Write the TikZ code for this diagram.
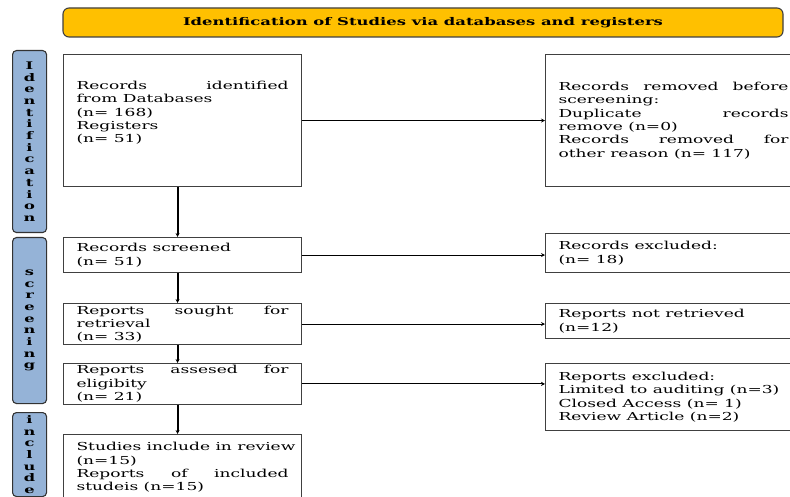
\documentclass[tikz,border=0pt]{standalone}
\usepackage{fontspec}
\setmainfont{DejaVu Serif}[FakeStretch=1.55]
\usetikzlibrary{arrows.meta}
\hyphenpenalty=10000
\exhyphenpenalty=10000
\newlength{\du}
\setlength{\du}{1pt}
\definecolor{titlefill}{HTML}{FFC000}
\definecolor{barfill}{HTML}{95B3D7}
\definecolor{boxline}{HTML}{404040}
\tikzset{
  flowbox/.style={draw=boxline, line width=1.1\du, fill=white, anchor=north west,
    inner xsep=13\du, inner ysep=2\du, align=justify,
    font=\fontsize{11}{13.3}\selectfont},
  phasebar/.style={draw=black!80, line width=1.1\du, fill=barfill, rounded corners=4\du,
    anchor=north west, minimum width=34\du, inner sep=0pt, align=center,
    font=\bfseries\fontsize{10.5}{11.7}\selectfont},
  downarrow/.style={line width=2\du, -{Stealth[length=4pt,width=4pt]}},
  sidearrow/.style={line width=0.8\du, -{Stealth[length=4pt,width=4pt]}}
}

\begin{document}
\begin{tikzpicture}
\pgftransformxscale{1.000000}
\pgftransformyscale{-1.000000}
\useasboundingbox (0\du,0\du) rectangle (790\du,497\du);
\fill[white] (0\du,0\du) rectangle (790\du,497\du);
% title
\node[draw=boxline, line width=1.1\du, fill=titlefill, rounded corners=6\du,
  minimum width=720\du, minimum height=29\du, inner sep=0pt,
  font=\bfseries\fontsize{10.6}{13}\selectfont] (title) at (423\du,22.5\du)
  {Identification of Studies via databases and registers};
% phase bars
\node[phasebar, minimum height=182\du] (idbar) at (12\du,50\du)
  {I\\d\\e\\n\\t\\i\\f\\i\\c\\a\\t\\i\\o\\n};
\node[phasebar, minimum height=166\du] (scbar) at (12\du,237\du)
  {s\\c\\r\\e\\e\\n\\i\\n\\g};
\node[phasebar, minimum height=84\du] (inbar) at (12\du,412\du)
  {i\\n\\c\\l\\u\\d\\e};
% left column
\node[flowbox, text width=212\du, minimum height=132\du] (b1) at (63\du,54\du)
  {Records identified\linebreak from Databases\\(n= 168)\\Registers\\(n= 51)\\[4\du]};
\node[flowbox, text width=212\du, minimum height=35\du] (b2) at (63\du,237\du)
  {Records screened\\(n= 51)};
\node[flowbox, text width=212\du, minimum height=41\du] (b3) at (63\du,303\du)
  {Reports sought for\linebreak retrieval\\(n= 33)};
\node[flowbox, text width=212\du, minimum height=40\du] (b4) at (63\du,363\du)
  {Reports assesed for\linebreak eligibity\\(n= 21)};
\node[flowbox, text width=212\du, minimum height=66\du] (b5) at (63\du,434\du)
  {\mbox{Studies include in review}\\(n=15)\\Reports of included\linebreak studeis (n=15)};
% right column
\node[flowbox, text width=230\du, minimum height=132\du] (r1) at (545\du,54\du)
  {Records removed before\linebreak scereening:\\Duplicate records\linebreak remove (n=0)\\Records removed for\linebreak other reason (n= 117)};
\node[flowbox, text width=230\du, minimum height=39\du] (r2) at (545\du,233\du)
  {Records excluded:\\(n= 18)};
\node[flowbox, text width=230\du, minimum height=35\du] (r3) at (545\du,303\du)
  {Reports not retrieved\\(n=12)};
\node[flowbox, text width=230\du, minimum height=67\du] (r4) at (545\du,363\du)
  {Reports excluded:\\Limited to auditing (n=3)\\Closed Access (n= 1)\\Review Article (n=2)};
% arrows down
\draw[downarrow] ([xshift=-5pt]b1.south) -- ([xshift=-5pt]b2.north);
\draw[downarrow] ([xshift=-5pt]b2.south) -- ([xshift=-5pt]b3.north);
\draw[downarrow] ([xshift=-5pt]b3.south) -- ([xshift=-5pt]b4.north);
\draw[downarrow] ([xshift=-5pt]b4.south) -- ([xshift=-5pt]b5.north);
% arrows across
\draw[sidearrow] (b1.east) -- (b1.east -| r1.west);
\draw[sidearrow] (b2.east) -- (b2.east -| r2.west);
\draw[sidearrow] (b3.east) -- (b3.east -| r3.west);
\draw[sidearrow] (b4.east) -- (b4.east -| r4.west);
\end{tikzpicture}
\end{document}
